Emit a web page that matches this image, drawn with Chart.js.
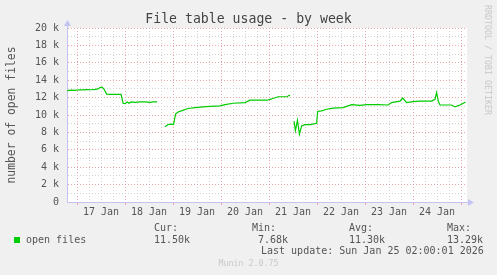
<!DOCTYPE html>
<html>
<head>
<meta charset="utf-8">
<title>File table usage - by week</title>
<script src="https://cdn.jsdelivr.net/npm/chart.js@4.4.1/dist/chart.umd.min.js"></script>
<style>
  body { margin: 0; background: #f0f0f0; font-family: "DejaVu Sans Mono", monospace; }
  #wrap { position: relative; width: 497px; height: 275px; overflow: hidden; }
  #chart { position: absolute; left: 0; top: 0; }
  .t { position: absolute; white-space: pre; color: #555; font-size: 10px; line-height: 12px; }
  #title { left: 0; width: 497px; top: 11px; text-align: center; font-size: 13.2px; line-height: 16px; color: #444; }
  #ylabel { left: -89px; top: 108px; width: 200px; text-align: center; font-size: 11.4px; line-height: 14px; transform: rotate(-90deg); }
  #rrd { left: 433px; top: 55px; width: 110px; text-align: center; font-size: 8.3px; line-height: 10px; color: #c8c8c8; transform: rotate(90deg); }
  #munin { left: 0; width: 497px; top: 258px; text-align: center; font-size: 8.3px; line-height: 10px; color: #c8c8c8; }
  #swatch { position: absolute; left: 14px; top: 237px; width: 6px; height: 6px; background: #00cc00; }
</style>
</head>
<body>
<div id="wrap">
  <canvas id="chart" width="497" height="275"></canvas>
  <div class="t" id="title">File table usage - by week</div>
  <div class="t" id="ylabel">number of open files</div>
  <div class="t" id="rrd">RRDTOOL / TOBI OETIKER</div>
  <div id="swatch"></div>
  <div class="t" style="left:26px; top:234px;">open files</div>
  <div class="t" style="left:154px; top:222px;">Cur:</div>
  <div class="t" style="left:154px; top:234px;">11.50k</div>
  <div class="t" style="left:252px; top:222px;">Min:</div>
  <div class="t" style="left:252px; top:234px;"> 7.68k</div>
  <div class="t" style="left:349px; top:222px;">Avg:</div>
  <div class="t" style="left:349px; top:234px;">11.30k</div>
  <div class="t" style="left:447px; top:222px;">Max:</div>
  <div class="t" style="left:447px; top:234px;">13.29k</div>
  <div class="t" style="left:261px; top:245px;">Last update: Sun Jan 25 02:00:01 2026</div>
  <div class="t" id="munin">Munin 2.0.75</div>
</div>
<script>
// ===== Data (hours since 17 Jan 00:00, null = no data) =====
let hours = [
  -5, -3, -1, 1, 3, 5, 7, 9, 10.5, 11.5, 12.5, 13.5, 14.8, 16.5, 22, 23, 24, 25, 26, 27,
  29, 31.5, 34, 36.5, 38, 40,
  42,
  44, 45.5, 47, 48.25, 49.25, 50.5, 52.5, 55.5, 59, 63, 66.5, 71.5, 74, 78, 84, 86.5,
  95, 96.5, 98, 100.5, 105, 106, 106.5,
  107.5,
  108.5, 109.2, 110.2, 111.2, 112.3, 114, 116.5, 119, 119.8, 120.3, 122.3, 124.8, 128,
  133, 137.3, 141.5, 144.8, 150.5, 155.5, 157.3, 161.5, 162.8, 164.8, 168, 171.5, 177.3,
  179, 179.8, 180.7, 181.5, 187.3, 189, 191.5, 194.3
];

let openFiles = [
  12800, 12850, 12820, 12900, 12880, 12920, 12900, 12950, 13000, 13150, 13200, 12950, 12400, 12380, 12380, 11350, 11300, 11500, 11350, 11500,
  11450, 11500, 11500, 11450, 11500, 11500,
  null,
  8640, 8900, 8950, 8900, 10100, 10350, 10500, 10750, 10850, 10930, 11000, 11050, 11200, 11350, 11430, 11700,
  11700, 11800, 11900, 12100, 12100, 12260, 12200,
  null,
  9300, 8200, 9400, 7800, 8750, 8900, 8900, 9000, 9050, 10400, 10470, 10660, 10780,
  10850, 11200, 11100, 11200, 11200, 11150, 11430, 11600, 11950, 11430, 11540, 11600, 11600,
  11800, 12570, 11540, 11150, 11150, 10930, 11150, 11500
];

let dayLabels = ["17 Jan", "18 Jan", "19 Jan", "20 Jan", "21 Jan", "22 Jan", "23 Jan", "24 Jan"];

// ===== Styles =====
let lineColor = "#00cc00";
let majorGrid = "#eaa6a6";
let minorGrid = "#d2d2d2";
let axisColor = "#c4c4f4";
let tickFont = { family: "DejaVu Sans Mono", size: 10 };

// grid every 6 hours, every 1k files
let xGrid = [];
for (let h = 0; h <= 192; h += 6) xGrid.push(h);
let yGrid = [];
for (let v = 0; v <= 20000; v += 1000) yGrid.push(v);

// ===== Plot background + axis arrows =====
let plotFrame = {
  id: "plotFrame",
  beforeDraw(chart) {
    let { ctx, chartArea: a } = chart;
    ctx.save();
    ctx.fillStyle = "#fff";
    ctx.fillRect(a.left, a.top, a.right - a.left, a.bottom - a.top);
    ctx.restore();
  },
  afterDraw(chart) {
    let { ctx, chartArea: a } = chart;
    let x0 = Math.round(a.left - 0.5) + 0.5;
    let y0 = Math.round(a.bottom - 0.5) + 0.5;
    ctx.save();
    ctx.strokeStyle = axisColor;
    ctx.fillStyle = axisColor;
    ctx.lineWidth = 1;
    ctx.beginPath();
    ctx.moveTo(x0, a.top);
    ctx.lineTo(x0, a.top - 3);
    ctx.moveTo(a.right, y0);
    ctx.lineTo(a.right + 3, y0);
    ctx.stroke();
    ctx.beginPath();
    ctx.moveTo(x0 - 3.5, a.top - 2);
    ctx.lineTo(x0 + 3.5, a.top - 2);
    ctx.lineTo(x0, a.top - 8);
    ctx.closePath();
    ctx.fill();
    ctx.beginPath();
    ctx.moveTo(a.right + 1, y0 - 3.5);
    ctx.lineTo(a.right + 1, y0 + 3.5);
    ctx.lineTo(a.right + 7, y0);
    ctx.closePath();
    ctx.fill();
    ctx.restore();
  }
};

// ===== Chart =====
new Chart(document.getElementById("chart").getContext("2d"), {
  type: "line",
  data: {
    datasets: [{
      label: "open files",
      data: hours.map((h, i) => ({ x: h, y: openFiles[i] })),
      borderColor: lineColor,
      borderWidth: 1.2,
      pointRadius: 0,
      tension: 0,
      spanGaps: false
    }]
  },
  options: {
    responsive: false,
    animation: false,
    layout: { padding: { left: 27, right: 30, top: 28, bottom: 56 } },
    plugins: { legend: { display: false }, title: { display: false }, tooltip: { enabled: false } },
    scales: {
      x: {
        type: "linear",
        min: -5,
        max: 195,
        afterBuildTicks: axis => { axis.ticks = xGrid.map(v => ({ value: v })); },
        ticks: {
          autoSkip: false,
          maxRotation: 0,
          padding: 1,
          color: "#555",
          font: tickFont,
          callback: v => (v % 24 === 12 ? dayLabels[(v - 12) / 24] : "")
        },
        grid: {
          color: c => (c.tick.value % 24 === 0 ? majorGrid : minorGrid),
          tickColor: c => (c.tick.value % 24 === 0 ? majorGrid : "transparent"),
          tickLength: 3
        },
        border: { color: axisColor, dash: [1, 2] }
      },
      y: {
        min: 0,
        max: 20000,
        afterBuildTicks: axis => { axis.ticks = yGrid.map(v => ({ value: v })); },
        ticks: {
          autoSkip: false,
          padding: 8,
          color: "#555",
          font: tickFont,
          callback: v => (v % 2000 !== 0 ? "" : v === 0 ? "0" : v / 1000 + " k")
        },
        grid: {
          color: c => (c.tick.value === 0 ? "transparent" : c.tick.value % 2000 === 0 ? majorGrid : minorGrid),
          drawTicks: false
        },
        border: { color: axisColor, dash: [1, 2] }
      }
    }
  },
  plugins: [plotFrame]
});
</script>
</body>
</html>
